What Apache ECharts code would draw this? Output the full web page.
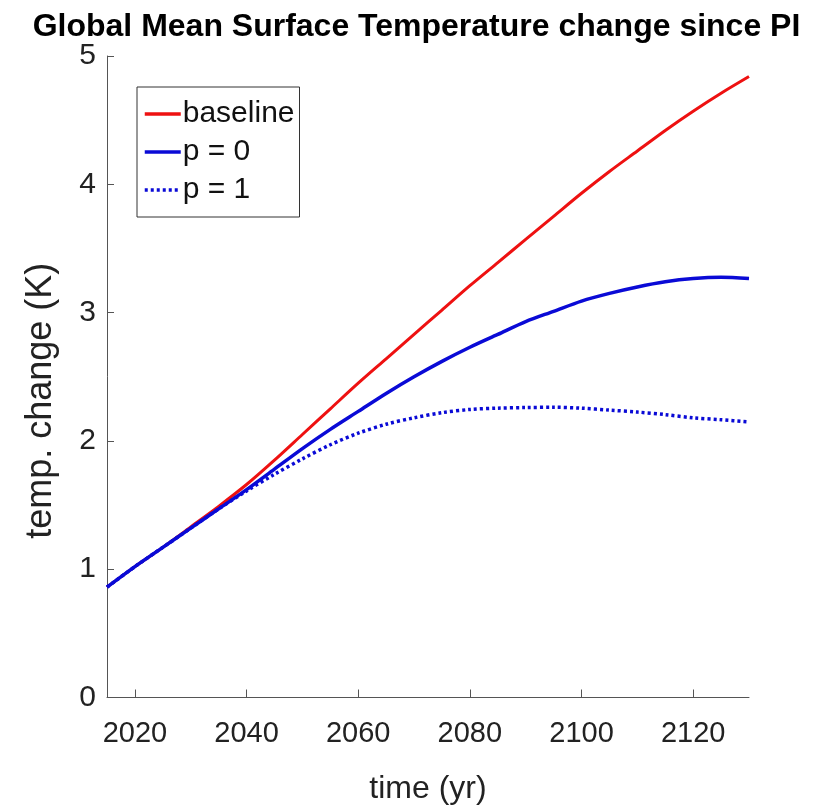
<!DOCTYPE html>
<html>
<head>
<meta charset="utf-8">
<script src="https://cdn.jsdelivr.net/npm/echarts@6/dist/echarts.min.js"></script>
<style>
html,body{margin:0;padding:0;background:#fff;}
#chart{width:833px;height:812px;}
</style>
</head>
<body>
<div id="chart"></div>
<script>
const years = [2015,2020,2025,2030,2035,2040,2045,2050,2055,2060,2065,2070,2075,2080,2085,2090,2095,2100,2105,2110,2115,2120,2125,2130];
const baseline = [0.86,1.02,1.17,1.33,1.49,1.66,1.85,2.05,2.25,2.45,2.64,2.83,3.02,3.21,3.39,3.57,3.75,3.93,4.10,4.26,4.42,4.57,4.71,4.84];
const p0 = [0.86,1.02,1.17,1.32,1.47,1.62,1.78,1.94,2.09,2.23,2.37,2.50,2.62,2.73,2.83,2.93,3.01,3.09,3.15,3.20,3.24,3.265,3.275,3.265];
const p1 = [0.86,1.02,1.17,1.32,1.47,1.61,1.74,1.86,1.97,2.06,2.13,2.18,2.22,2.245,2.255,2.26,2.262,2.255,2.24,2.225,2.205,2.18,2.165,2.148];
const xTicks = [2020,2040,2060,2080,2100,2120];
const yTicks = [0,1,2,3,4,5];
const seriesNames = ['baseline','p = 0','p = 1'];

const pairs = arr => years.map((y,i)=>[y,arr[i]]);
const sans = '"Liberation Sans","Arial",sans-serif';
const chart = echarts.init(document.getElementById('chart'));
chart.setOption({
  backgroundColor:'#ffffff',
  animation:false,
  title:{
    text:'Global Mean Surface Temperature change since PI',
    left:'center', top:6,
    textStyle:{fontFamily:sans,fontWeight:'bold',fontSize:32,color:'#000'}
  },
  grid:{left:107,right:84,top:56,bottom:114.5,containLabel:false},
  legend:{
    orient:'vertical', left:137, top:87,
    data:seriesNames,
    backgroundColor:'#fff', borderColor:'#333', borderWidth:1,
    padding:[12,5,12,6], itemGap:8, itemWidth:36, itemHeight:31,
    itemStyle:{opacity:0},
    lineStyle:{width:3.5},
    textStyle:{fontFamily:sans,fontSize:30,color:'#111',padding:[0,0,0,-3]}
  },
  xAxis:{
    type:'value', min:2015, max:2130,
    name:'time (yr)', nameLocation:'middle', nameGap:76,
    nameTextStyle:{fontFamily:sans,fontSize:32,color:'#222'},
    axisLine:{show:true,lineStyle:{color:'#555',width:1}},
    axisTick:{show:true,inside:true,length:8,customValues:xTicks,lineStyle:{color:'#555'}},
    axisLabel:{customValues:xTicks,formatter:v=>String(v),fontFamily:sans,fontSize:29,color:'#222',margin:22},
    splitLine:{show:false}
  },
  yAxis:{
    type:'value', min:0, max:5, interval:1,
    name:'temp. change (K)', nameLocation:'middle', nameGap:48, nameRotate:90,
    nameTextStyle:{fontFamily:sans,fontSize:36,color:'#222',padding:[0,48,0,0]},
    axisLine:{show:true,lineStyle:{color:'#555',width:1}},
    axisTick:{show:true,inside:true,length:7,lineStyle:{color:'#555'}},
    axisLabel:{formatter:v=>String(v),fontFamily:sans,fontSize:30,color:'#222',margin:11},
    splitLine:{show:false}
  },
  series:[
    {name:seriesNames[0],type:'line',data:pairs(baseline),smooth:0.3,symbol:'none',
     lineStyle:{color:'#ee1111',width:3},itemStyle:{color:'#ee1111'}},
    {name:seriesNames[1],type:'line',data:pairs(p0),smooth:0.3,symbol:'none',
     lineStyle:{color:'#0a0ad6',width:3.5},itemStyle:{color:'#0a0ad6'}},
    {name:seriesNames[2],type:'line',data:pairs(p1),smooth:0.3,symbol:'none',
     lineStyle:{color:'#0a0ad6',width:3.5,type:[3,3]},itemStyle:{color:'#0a0ad6'}}
  ]
});
</script>
</body>
</html>
